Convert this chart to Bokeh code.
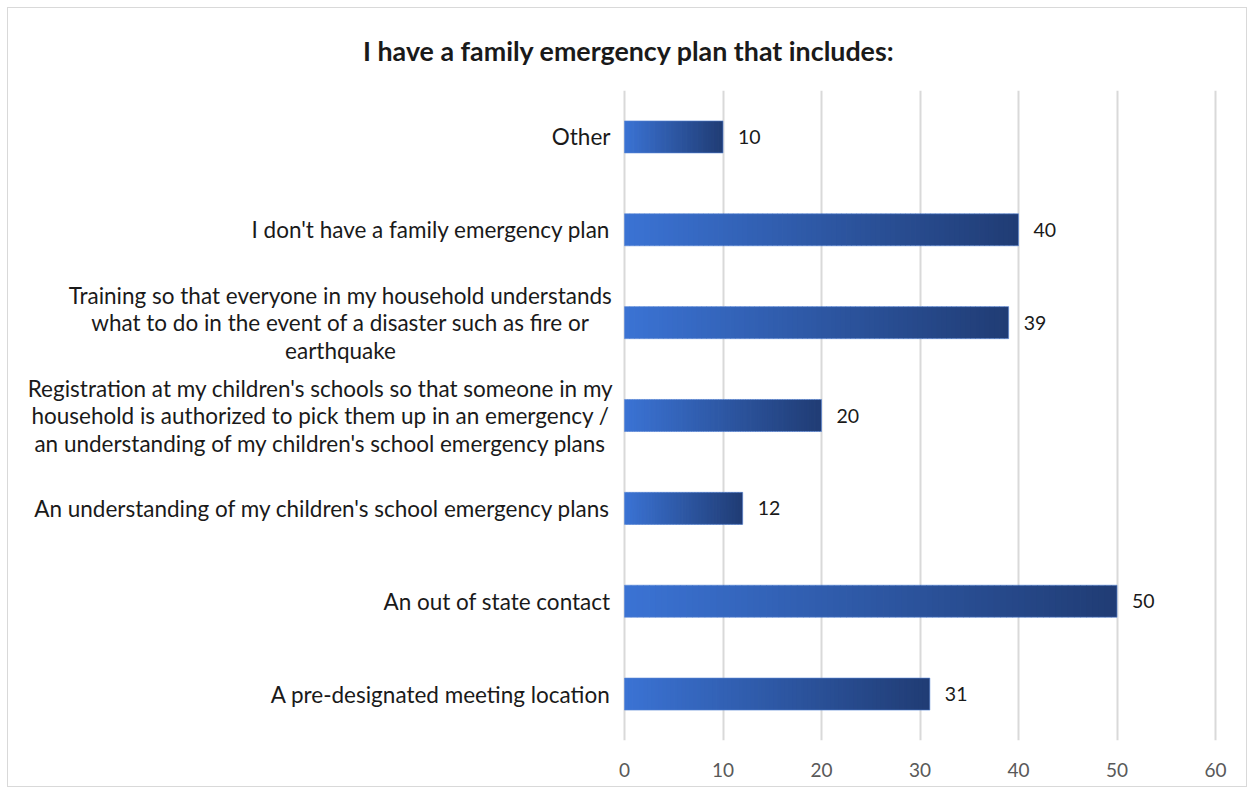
from bokeh.plotting import figure
from bokeh.models import ColumnDataSource, Range1d, FactorRange, FixedTicker
from bokeh.core.properties import value
from bokeh.embed import file_html
from bokeh.resources import INLINE

# ---------------- data ----------------
categories = [
    "A pre-designated meeting location",
    "An out of state contact",
    "An understanding of my children's school emergency plans",
    "Registration at my children's schools so that someone in my\nhousehold is authorized to pick them up in an emergency /\nan understanding of my children's school emergency plans",
    "Training so that everyone in my household understands\nwhat to do in the event of a disaster such as fire or\nearthquake",
    "I don't have a family emergency plan",
    "Other",
]
counts = [31, 50, 12, 20, 39, 40, 10]
x_ticks = [0, 10, 20, 30, 40, 50, 60]
title_text = "I have a family emergency plan that includes:"

# ---------------- layout / style ----------------
FONT = "Lato"
frame_w, frame_h = 1225, 650
frame_left_px, zero_px, sixty_px = 16, 624, 1215
ppu = (sixty_px - zero_px) / 60.0
x_start = (frame_left_px - zero_px) / ppu
x_end = (frame_left_px + frame_w - zero_px) / ppu
bar_h = 0.345
line_h = 27.5
# pixel width of the widest line for the wrapped (centred) labels
block_width = {3: 596, 4: 556}

c0 = (59, 115, 212)
c1 = (32, 60, 116)
NSEG = 80
overlap = 0.08  # slight overlap of gradient slices to hide seams

def lerp(a, b, t):
    return "#%02x%02x%02x" % tuple(int(round(a[k] + (b[k] - a[k]) * t)) for k in range(3))

seg = dict(y=[], left=[], right=[], color=[])
for cat, v in zip(categories, counts):
    for i in range(NSEG):
        seg["y"].append(cat)
        seg["left"].append(v * i / NSEG)
        seg["right"].append(min(v, v * (i + 1) / NSEG + overlap))
        seg["color"].append(lerp(c0, c1, (i + 0.5) / NSEG))
seg_src = ColumnDataSource(seg)

lab = dict(y=[], text=[], xo=[], yo=[], align=[])
for idx, cat in enumerate(categories):
    lines = cat.split("\n")
    n = len(lines)
    for j, ln in enumerate(lines):
        lab["y"].append(cat)
        lab["text"].append(ln)
        lab["yo"].append((j - (n - 1) / 2) * line_h)
        if n == 1:
            lab["xo"].append(-14)
            lab["align"].append("right")
        else:
            lab["xo"].append(-(6 + block_width[idx] / 2))
            lab["align"].append("center")

lab_src = ColumnDataSource(lab)
val_src = ColumnDataSource(dict(y=categories, x=counts, t=[str(c) for c in counts]))

p = figure(
    y_range=FactorRange(*categories, range_padding=0),
    x_range=Range1d(x_start, x_end),
    frame_width=frame_w, frame_height=frame_h,
    min_border_left=8, min_border_right=5, min_border_top=82, min_border_bottom=46,
    output_backend="svg", toolbar_location=None,
    title=title_text,
    styles={"border": "1px solid #d9d9d9", "margin-left": "7px", "margin-top": "7px"},
)
p.y_range.factor_padding = 0
p.title.align = "center"
p.title.text_font = FONT
p.title.text_font_size = "26.8px"
p.title.text_font_style = "bold"
p.title.text_color = "#1a1a1a"
p.title.text_line_height = 0.8
p.title.standoff = 48

p.outline_line_color = None
p.background_fill_color = "white"
p.border_fill_color = "white"

p.yaxis.visible = False
p.ygrid.grid_line_color = None
p.xaxis.ticker = FixedTicker(ticks=x_ticks)
p.xgrid.ticker = FixedTicker(ticks=x_ticks)
p.xgrid.grid_line_color = "#d9d9d9"
p.xgrid.grid_line_width = 2
p.xaxis.axis_line_color = None
p.xaxis.major_tick_line_color = None
p.xaxis.minor_tick_line_color = None
p.xaxis.major_tick_out = 0
p.xaxis.major_tick_in = 0
p.xaxis.major_label_standoff = 22
p.xaxis.major_label_text_font = FONT
p.xaxis.major_label_text_font_size = "19px"
p.xaxis.major_label_text_color = "#595959"

p.hbar(y="y", left="left", right="right", height=bar_h, source=seg_src,
       fill_color="color", line_color=None)
p.hbar(y="y", left=0, right="x", height=bar_h, source=val_src,
       fill_color=None, line_color="#5a87d6", line_width=1, line_alpha=0.6)

p.text(x=0, y="y", text="text", x_offset="xo", y_offset="yo", text_align="align",
       text_baseline="middle", source=lab_src, text_font=value(FONT),
       text_font_size="22.5px", text_color="#1a1a1a")
p.text(x="x", y="y", text="t", x_offset=15, text_align="left", text_baseline="middle",
       source=val_src, text_font=value(FONT), text_font_size="19.5px", text_color="#1a1a1a")

open("out.html", "w").write(file_html(p, INLINE))
